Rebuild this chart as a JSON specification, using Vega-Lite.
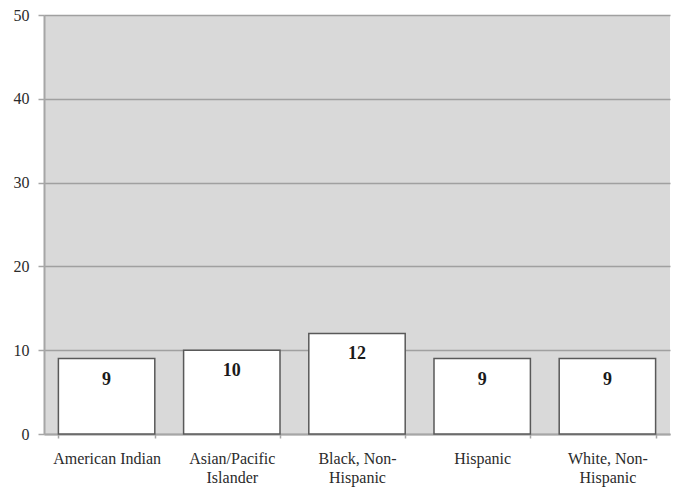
{
  "$schema": "https://vega.github.io/schema/vega-lite/v6.json",
  "width": 626,
  "height": 419,
  "autosize": {"type": "none"},
  "padding": {"left": 44, "top": 15, "right": 4, "bottom": 55},
  "background": "#ffffff",
  "config": {
    "view": {"fill": "#d9d9d9", "stroke": null},
    "font": "Liberation Serif"
  },
  "data": {
    "values": [
      {"group": "American Indian", "value": 9},
      {"group": "Asian/Pacific Islander", "value": 10},
      {"group": "Black, Non-Hispanic", "value": 12},
      {"group": "Hispanic", "value": 9},
      {"group": "White, Non-Hispanic", "value": 9}
    ]
  },
  "encoding": {
    "x": {
      "field": "group",
      "type": "nominal",
      "sort": null,
      "scale": {"paddingInner": 0.23, "paddingOuter": 0.115},
      "axis": {
        "title": null,
        "labelAngle": 0,
        "labelFont": "Liberation Serif",
        "labelFontSize": 16,
        "labelColor": "#2b2b2b",
        "labelLineHeight": 19,
        "labelPadding": 12,
        "tickBand": "extent",
        "tickSize": 4,
        "tickColor": "#a6a6a6",
        "tickWidth": 1.5,
        "domainColor": "#a6a6a6",
        "domainWidth": 2,
        "labelExpr": "datum.label == 'Asian/Pacific Islander' ? ['Asian/Pacific', 'Islander'] : datum.label == 'Black, Non-Hispanic' ? ['Black, Non-', 'Hispanic'] : datum.label == 'White, Non-Hispanic' ? ['White, Non-', 'Hispanic'] : datum.label"
      }
    },
    "y": {
      "field": "value",
      "type": "quantitative",
      "scale": {"domain": [0, 50], "nice": false},
      "axis": {
        "title": null,
        "values": [0, 10, 20, 30, 40, 50],
        "labelFont": "Liberation Serif",
        "labelFontSize": 16,
        "labelColor": "#2b2b2b",
        "labelPadding": 9,
        "tickSize": 6,
        "tickColor": "#a6a6a6",
        "tickWidth": 1.5,
        "domainColor": "#a6a6a6",
        "domainWidth": 2,
        "grid": true,
        "gridColor": "#a0a0a0",
        "gridWidth": 1.5
      }
    }
  },
  "layer": [
    {
      "mark": {"type": "bar", "fill": "#ffffff", "stroke": "#595959", "strokeWidth": 1.5}
    },
    {
      "mark": {
        "type": "text",
        "baseline": "alphabetic",
        "dy": 26,
        "font": "Liberation Serif",
        "fontSize": 18,
        "fontWeight": "bold",
        "color": "#1a1a1a"
      },
      "encoding": {"text": {"field": "value", "type": "quantitative"}}
    }
  ]
}
